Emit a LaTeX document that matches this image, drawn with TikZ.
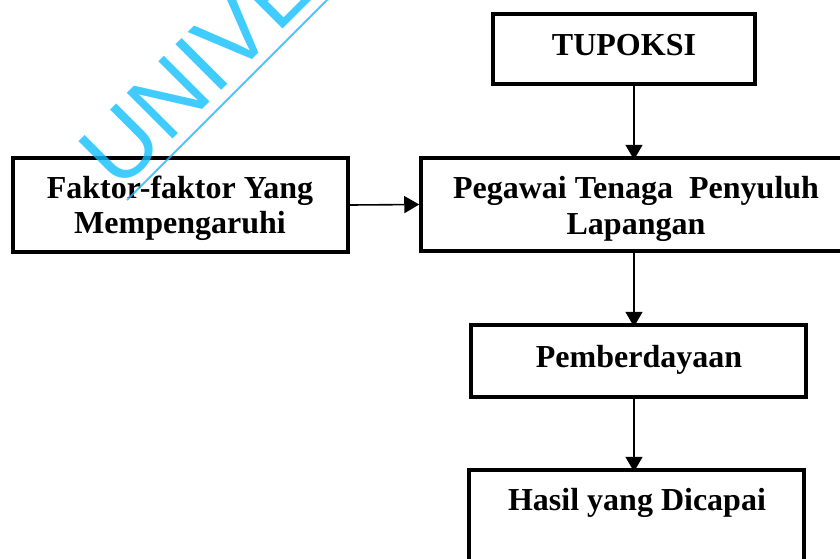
\documentclass[tikz,border=0pt]{standalone}
\usepackage{fontspec}
\setmainfont{Liberation Serif}
\newfontfamily\wmfont{Liberation Sans}
\usetikzlibrary{arrows.meta}
\definecolor{wmcyan}{RGB}{16,191,255}
\tikzset{
  box/.style={draw=black, line width=3.5pt, inner sep=0pt, outer sep=0pt},
  arr/.style={line width=1.6pt, -{Triangle[width=17pt,length=15pt]}},
  lbl/.style={anchor=base, inner sep=0pt, font=\fontsize{32}{36}\selectfont\bfseries},
}
\begin{document}
\begin{tikzpicture}[x=1pt,y=-1pt]
\useasboundingbox (0,0) rectangle (840,558);
\clip (0,0) rectangle (840,558);
% boxes
\node[box, minimum width=262pt, minimum height=70pt] (tup) at (624,49) {};
\node[box, minimum width=429pt, minimum height=93pt] (peg) at (635.5,204.5) {};
\node[box, minimum width=335pt, minimum height=94pt] (fak) at (180.5,205) {};
\node[box, minimum width=335pt, minimum height=72pt] (pem) at (638.5,361) {};
\node[box, minimum width=335pt, minimum height=130pt] (has) at (636.5,535) {};
% labels
\node[lbl] (t1) at (624,55) {TUPOKSI};
\node[lbl] (f1) at (180,198) {Faktor-faktor Yang};
\node[lbl] (f2) at (180,233) {Mempengaruhi};
\node[lbl] (p1) at (636,198) {Pegawai Tenaga~ Penyuluh};
\node[lbl] (p2) at (636,234) {Lapangan};
\node[lbl] (m1) at (639,367) {Pemberdayaan};
\node[lbl] (h1) at (637,510) {Hasil yang Dicapai};
% connectors
\coordinate (ax) at (634,0);
\draw[arr] ([yshift=-1.75pt]tup.south -| ax) -- ([yshift=-1.75pt]peg.north -| ax);
\draw[arr] ([yshift=1.75pt]peg.south -| ax) -- ([yshift=-1.75pt]pem.north -| ax);
\draw[arr] ([yshift=1.75pt]pem.south -| ax) -- ([yshift=-1.75pt]has.north -| ax);
\draw[arr] ([xshift=1.75pt]fak.east) -- ([xshift=-1.75pt]peg.west);
% watermark
\begin{scope}[opacity=0.8]
\node[anchor=base west, inner sep=0pt, rotate=45, text=wmcyan,
      font=\wmfont\fontsize{94}{94}\selectfont] (wm) at (119,193) {UNIVE};
\coordinate (wl1) at (127,200);
\coordinate (wl2) at (340,-13);
\draw[wmcyan, line width=2pt] (wl1) -- (wl2);
\end{scope}
\end{tikzpicture}
\end{document}
